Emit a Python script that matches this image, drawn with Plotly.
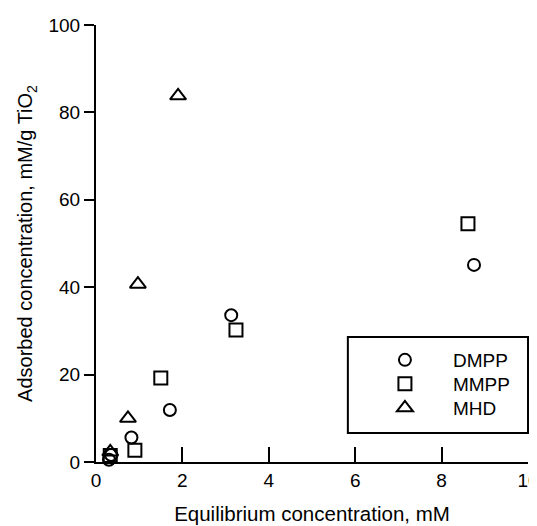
import plotly.graph_objects as go

dmpp_x = [0.30, 0.35, 0.82, 1.71, 3.13, 8.75]
dmpp_y = [0.5, 1.6, 5.6, 11.9, 33.6, 45.1]
mmpp_x = [0.33, 0.90, 1.50, 3.24, 8.61]
mmpp_y = [1.5, 2.7, 19.2, 30.2, 54.5]
mhd_x = [0.33, 0.74, 0.97, 1.90]
mhd_y = [2.3, 10.0, 40.7, 83.8]

x_ticks = [0, 2, 4, 6, 8, 10]
y_ticks = [0, 20, 40, 60, 80, 100]

font = "Liberation Sans, Arial, Helvetica, sans-serif"

fig = go.Figure()
fig.add_trace(go.Scatter(x=dmpp_x, y=dmpp_y, mode="markers", name="DMPP", legend="legend",
                         showlegend=True,
                         marker=dict(symbol="circle-open", size=12, color="black",
                                     line=dict(color="black", width=2))))
fig.add_trace(go.Scatter(x=mmpp_x, y=mmpp_y, mode="markers", name="MMPP", legend="legend2",
                         showlegend=True,
                         marker=dict(symbol="square-open", size=13, color="black",
                                     line=dict(color="black", width=2))))
fig.add_trace(go.Scatter(x=mhd_x, y=mhd_y, mode="markers", name="MHD", legend="legend3",
                         showlegend=True,
                         marker=dict(symbol="triangle-up-open", size=14, color="black",
                                     line=dict(color="black", width=2))))
fig.update_traces(cliponaxis=False)

leg = dict(x=0.604, xanchor="left", yanchor="middle", bgcolor="rgba(0,0,0,0)",
           borderwidth=0, font=dict(size=19), itemwidth=86)

fig.update_layout(
    width=529, height=518,
    showlegend=True,
    margin=dict(l=88, r=9, t=17, b=64, autoexpand=False),
    paper_bgcolor="white", plot_bgcolor="white",
    font=dict(family=font, size=19, color="black"),
    xaxis=dict(range=[0, 10], tickvals=x_ticks, ticks="inside", ticklen=15, tickwidth=2,
               tickcolor="black", showline=True, linewidth=2, linecolor="black",
               showgrid=False, zeroline=False, tickfont=dict(size=19), automargin=False,
               ticklabeloverflow="allow",
               title=dict(text="Equilibrium concentration, mM", font=dict(size=20.5), standoff=17)),
    yaxis=dict(range=[0, 100], tickvals=y_ticks, ticks="outside", ticklen=10, tickwidth=2,
               tickcolor="black", showline=True, linewidth=2, linecolor="black",
               showgrid=False, zeroline=False, tickfont=dict(size=19), automargin=False,
               ticklabeloverflow="allow",
               title=dict(text="Adsorbed concentration, mM/g TiO<sub>2</sub>", font=dict(size=20), standoff=10)),
    legend=dict(leg, y=(462 - 360) / 437),
    legend2=dict(leg, y=(462 - 384) / 437),
    legend3=dict(leg, y=(462 - 408) / 437),
    shapes=[dict(type="rect", xref="paper", yref="paper", x0=0.583, x1=1.0,
                 y0=(462 - 433) / 437, y1=(462 - 337) / 437, line=dict(color="black", width=2)),
            dict(type="line", xref="paper", yref="paper", x0=-11 / 432, x1=0, y0=0, y1=0,
                 line=dict(color="black", width=2))],
)
fig.write_html("out.html")
